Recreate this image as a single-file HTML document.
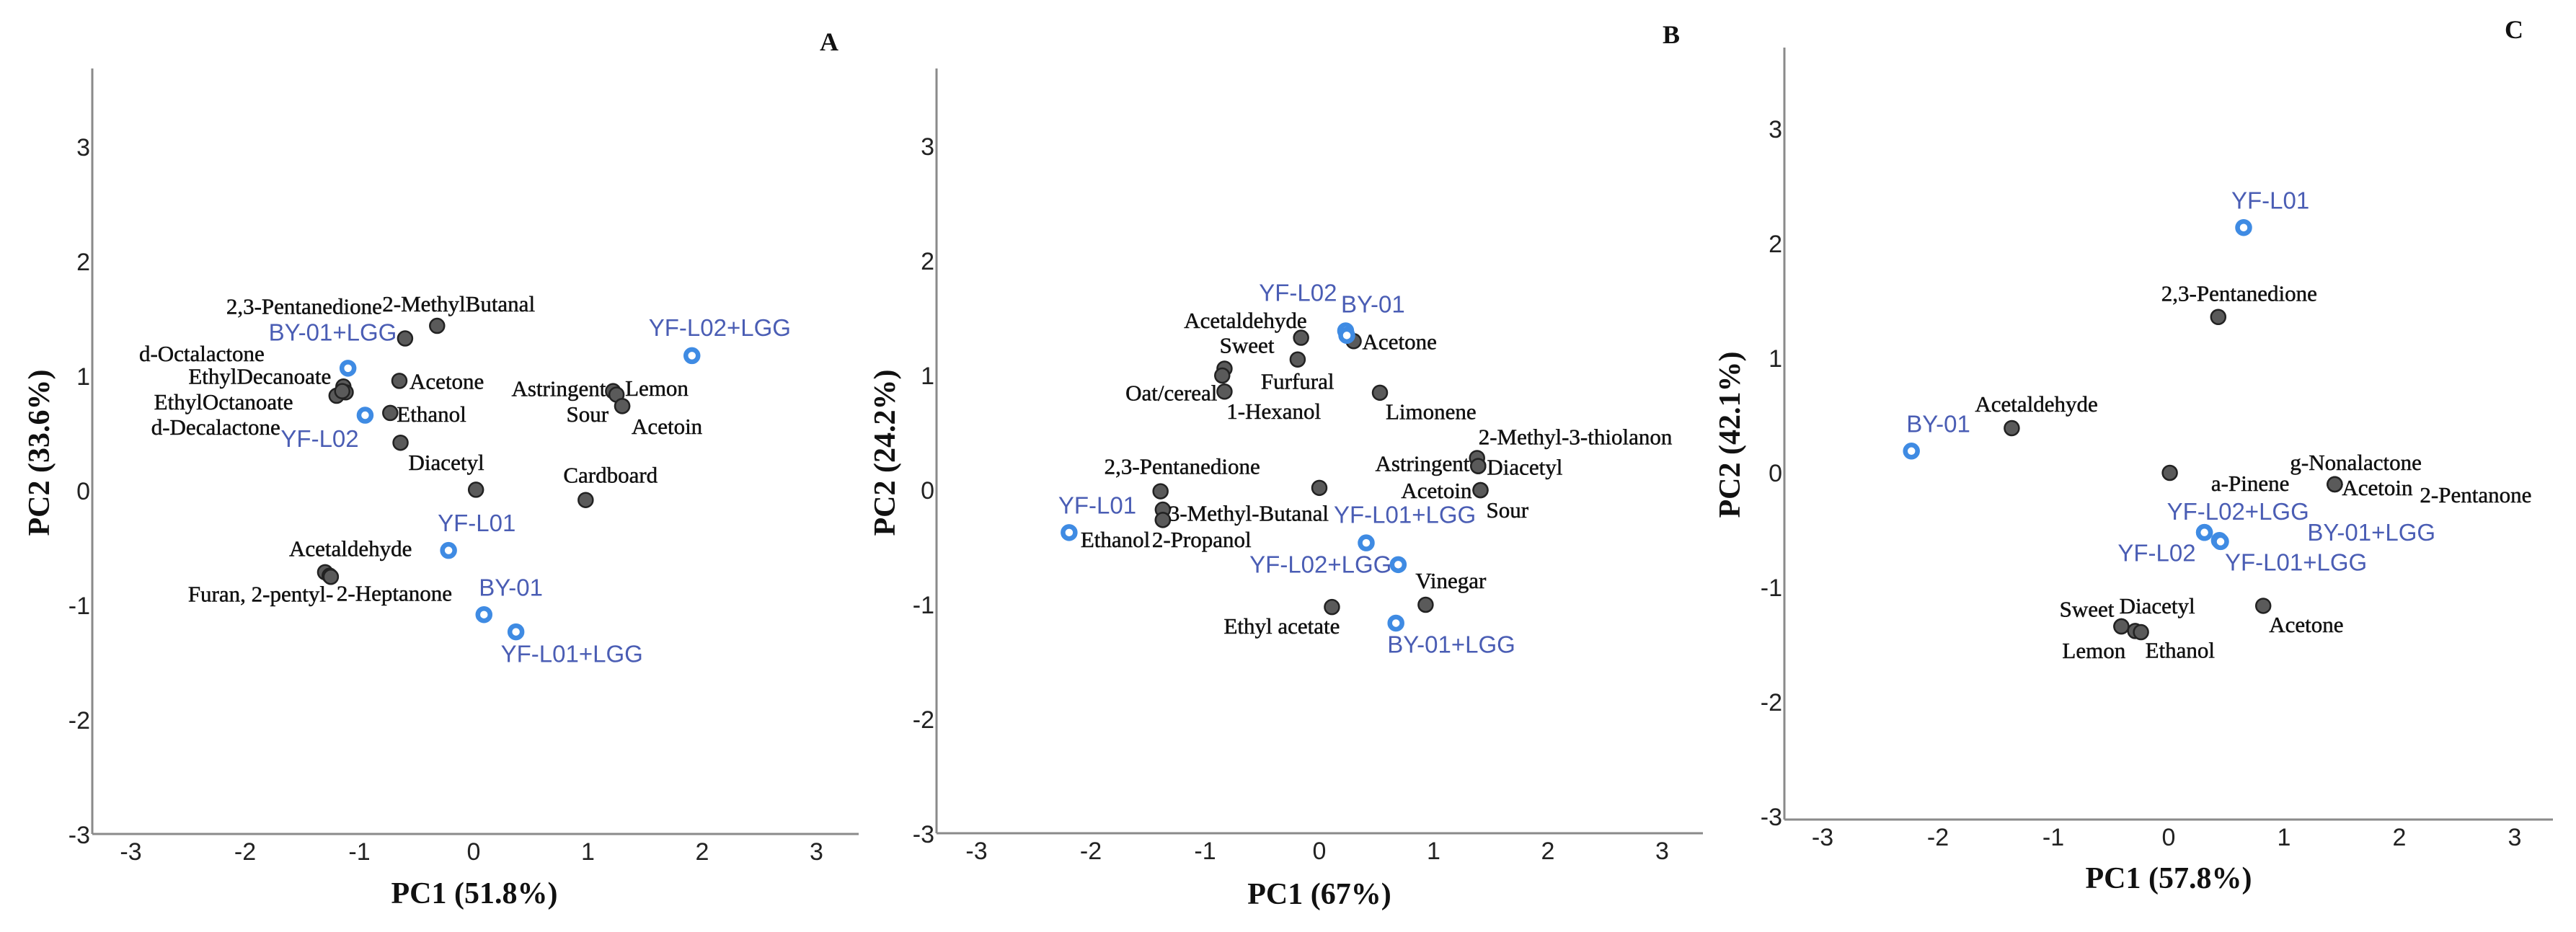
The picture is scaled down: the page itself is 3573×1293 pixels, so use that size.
<!DOCTYPE html>
<html><head><meta charset="utf-8"><style>
html,body{margin:0;padding:0;background:#fff;}
svg{display:block;}
.tick{font-family:"Liberation Sans",sans-serif;font-size:34px;fill:#222;}
.ttl{font-family:"Liberation Serif",serif;font-size:42px;font-weight:bold;fill:#111;}
.lbl{font-family:"Liberation Serif",serif;font-size:31px;fill:#111;stroke:#111;stroke-width:0.5;}
.blbl{font-family:"Liberation Sans",sans-serif;font-size:33px;fill:#4a5db4;}
</style></head><body>
<svg id="chart" width="3573" height="1293" viewBox="0 0 3573 1293" xmlns="http://www.w3.org/2000/svg"></svg>
<script>
// ---------- data ----------
const tickValues = [-3,-2,-1,0,1,2,3];

// Panel A
const aNames = ["2,3-Pentanedione","2-MethylButanal","BY-01+LGG","d-Octalactone","EthylDecanoate","EthylOctanoate","d-Decalactone","Acetone","Ethanol","YF-L02","Diacetyl","Origin","Cardboard","Astringent","Lemon","Sour","Acetoin","YF-L02+LGG","YF-L01","Acetaldehyde","Furan, 2-pentyl-","2-Heptanone","BY-01","YF-L01+LGG"];
const aPC1 = [-0.60,-0.32,-1.10,-1.20,-1.14,-1.12,-1.15,-0.65,-0.73,-0.95,-0.64,0.02,0.98,1.22,1.25,1.30,1.30,1.91,-0.22,-1.30,-1.26,-1.25,0.09,0.37];
const aPC2 = [1.33,1.44,1.07,0.83,0.91,0.86,0.87,0.96,0.68,0.66,0.42,0.01,-0.08,0.87,0.84,0.74,0.74,1.18,-0.52,-0.71,-0.74,-0.75,-1.08,-1.23];
const aType = ["d","d","r","d","d","d","d","d","d","r","d","d","d","d","d","d","d","r","r","d","d","d","r","r"];
const aShow = [1,1,1,1,1,1,1,1,1,1,1,0,1,1,1,1,1,1,1,1,1,1,1,1];
const aAnchor = ["end","start","start","end","end","end","end","start","start","start","start","start","start","end","start","end","start","start","start","start","end","start","start","start"];
const aDx = [-32,-76,-110,-100,-17,-73,-86,14,9,-117,11,0,-31,-10,12,-19,13,-60,-15,-50,5,8,-7,-21];
const aDy = [-42,-29,-46,-55,-14,12,46,0,1,31,25,0,-33,-4,-9,10,26,-36,-35,-31,23,21,-35,29];

// Panel B
const bNames = ["YF-L02","BY-01","Acetone","Acetaldehyde","Sweet","Furfural","1-Hexanol","Oat/cereal","Limonene","2-Methyl-3-thiolanon","Astringent","Diacetyl","Acetoin","Sour","Origin","2,3-Pentanedione","3-Methyl-Butanal","Ethanol","2-Propanol","YF-L01","YF-L01+LGG","YF-L02+LGG","Vinegar","Ethyl acetate","BY-01+LGG"];
const bPC1 = [0.23,0.24,0.30,-0.16,-0.83,-0.19,-0.85,-0.83,0.53,1.38,1.39,1.39,1.41,1.41,0.0,-1.39,-1.37,-1.37,-1.37,-2.19,0.41,0.69,0.93,0.11,0.67];
const bPC2 = [1.39,1.35,1.30,1.33,1.06,1.14,1.00,0.86,0.85,0.28,0.21,0.21,0.0,0.0,0.02,-0.01,-0.17,-0.26,-0.26,-0.37,-0.46,-0.65,-1.00,-1.02,-1.16];
const bType = ["r","r","d","d","d","d","d","d","d","d","d","d","d","d","d","d","d","d","d","r","r","r","d","d","r"];
const bShow = [1,1,1,1,1,1,1,1,1,1,1,1,1,1,0,1,1,1,1,1,1,1,1,1,1];
const bAnchor = ["end","start","start","end","end","start","start","end","start","start","end","start","end","start","start","start","start","start","start","start","start","end","start","end","start"];
const bDx = [-12,-8,12,8,69,-51,6,-10,8,2,-12,12,-12,8,0,-78,8,-114,-15,-15,-45,-9,-14,11,-12];
const bDy = [-49,-40,0,-23,-31,28,46,1,24,-28,-4,1,0,25,0,-33,4,25,25,-35,-36,0,-32,24,28];

// Panel C
const cNames = ["YF-L01","2,3-Pentanedione","Acetaldehyde","BY-01","Origin","Acetoin","g-Nonalactone","2-Pentanone","a-Pinene","YF-L02+LGG","YF-L02","BY-01+LGG","YF-L01+LGG","Acetone","Sweet","Diacetyl","Lemon","Ethanol"];
const cPC1 = [0.65,0.43,-1.36,-2.23,0.01,1.44,1.44,1.44,1.44,0.31,0.31,0.44,0.45,0.82,-0.41,-0.29,-0.41,-0.24];
const cPC2 = [2.14,1.36,0.39,0.19,0.0,-0.10,-0.10,-0.10,-0.10,-0.52,-0.52,-0.59,-0.60,-1.16,-1.34,-1.38,-1.34,-1.39];
const cType = ["r","d","d","r","d","d","d","d","d","r","r","r","r","d","d","d","d","d"];
const cShow = [1,1,1,1,0,1,1,1,1,1,1,1,1,1,1,1,1,1];
const cAnchor = ["start","start","start","start","start","start","start","start","end","start","end","start","start","start","end","start","start","start"];
const cDx = [-17,-79,-51,-7,0,10,-62,118,-63,-52,-12,122,6,8,-10,-22,-82,6];
const cDy = [-35,-31,-32,-35,0,4,-29,13,-2,-27,27,-10,27,24,-23,-33,31,23];

// ---------- layout (presentation) ----------
const panels = [
  {id:"a",letter:"A",names:aNames,x:aPC1,y:aPC2,type:aType,show:aShow,anc:aAnchor,dx:aDx,dy:aDy,
   x0:657,xu:158.5,y0:681,yu:159,axL:128,axB:1157,axT:95,axR:1191,lx:1150,ly:58,
   xt:"PC1 (51.8%)",xtx:658,xty:1239,yt:"PC2 (33.6%)",ytx:54,yty:628},
  {id:"b",letter:"B",names:bNames,x:bPC1,y:bPC2,type:bType,show:bShow,anc:bAnchor,dx:bDx,dy:bDy,
   x0:1830,xu:158.5,y0:680,yu:159,axL:1299,axB:1156,axT:95,axR:2362,lx:2318,ly:48,
   xt:"PC1 (67%)",xtx:1830,xty:1240,yt:"PC2 (24.2%)",ytx:1227,yty:628},
  {id:"c",letter:"C",names:cNames,x:cPC1,y:cPC2,type:cType,show:cShow,anc:cAnchor,dx:cDx,dy:cDy,
   x0:3008,xu:160,y0:656,yu:159,axL:2475,axB:1137,axT:66,axR:3541,lx:3487,ly:41,
   xt:"PC1 (57.8%)",xtx:3008,xty:1218,yt:"PC2 (42.1%)",ytx:2399,yty:603}
];
const NS="http://www.w3.org/2000/svg";
const svg=document.getElementById("chart");
function mk(tag,attrs,parent){const e=document.createElementNS(NS,tag);for(const k in attrs)e.setAttribute(k,attrs[k]);(parent||svg).appendChild(e);return e;}

panels.forEach(p=>{
  const sx=v=>p.x0+v*p.xu, sy=v=>p.y0-v*p.yu;
  const g=mk("g",{});
  
  
  const yl=mk("line",{x1:p.axL,y1:p.axT,x2:p.axL,y2:p.axB,stroke:"#8a8a8a","stroke-width":3},g);
  
  
  const xl=mk("line",{x1:p.axL,y1:p.axB,x2:p.axR,y2:p.axB,stroke:"#8a8a8a","stroke-width":3},g);
  
  
  tickValues.forEach(t=>{
    const tx=mk("text",{x:sx(t),y:p.axB+36,"text-anchor":"middle",class:"tick"},g);
    tx.textContent=t;
    
    
    const ty=mk("text",{x:p.axL-3,y:sy(t)+12,"text-anchor":"end",class:"tick"},g);
    ty.textContent=t;
    
    
  });
  const xt=mk("text",{x:p.xtx,y:p.xty+14,"text-anchor":"middle",class:"ttl"},g);
  xt.textContent=p.xt;
  
  
  const yt=mk("text",{x:p.ytx,y:p.yty,"text-anchor":"middle",class:"ttl",transform:`rotate(-90 ${p.ytx} ${p.yty}) translate(0 14)`},g);
  yt.textContent=p.yt;
  
  
  const lt=mk("text",{x:p.lx,y:p.ly+12,"text-anchor":"middle",class:"ttl",style:"font-size:36px"},g);
  lt.textContent=p.letter;
  
  
  // marks: dots first, rings on top
  ["d","r"].forEach(kind=>{
    p.names.forEach((n,i)=>{
      if(p.type[i]!==kind)return;
      const cx=sx(p.x[i]), cy=sy(p.y[i]);
      let c;
      if(kind==="d") c=mk("circle",{cx:cx,cy:cy,r:10,fill:"#5a5a5a",stroke:"#222","stroke-width":2.5},g);
      else c=mk("circle",{cx:cx,cy:cy,r:8.5,fill:"#fff",stroke:"#3f8be3","stroke-width":6.5},g);
      
      
    });
  });
  p.names.forEach((n,i)=>{
    if(!p.show[i])return;
    const cx=sx(p.x[i]), cy=sy(p.y[i]);
    const t=mk("text",{x:cx+p.dx[i],y:cy+p.dy[i]*1.07+11,"text-anchor":p.anc[i],class:p.type[i]==="r"?"blbl":"lbl"},g);
    t.textContent=n;
    
    
  });
});
</script>
</body></html>
